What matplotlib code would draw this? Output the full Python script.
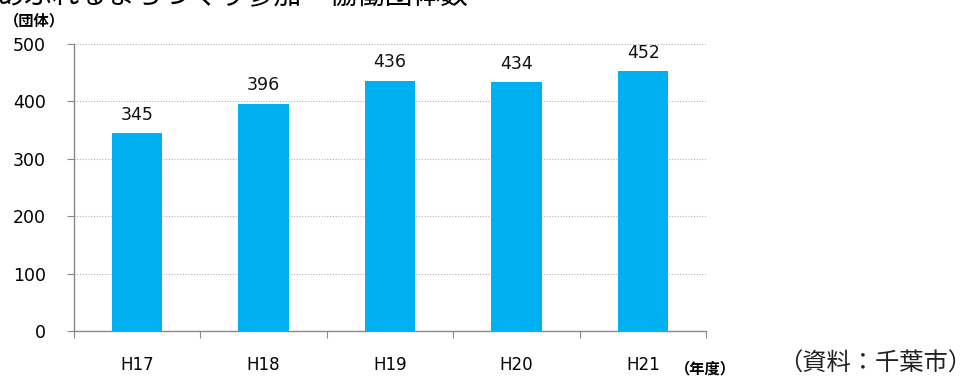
import matplotlib
matplotlib.use('Agg')
import matplotlib.pyplot as plt

plt.rcParams['font.family'] = ['DejaVu Sans', 'Noto Sans CJK JP']

# 年度別の団体数
years = ['H17', 'H18', 'H19', 'H20', 'H21']
counts = [345, 396, 436, 434, 452]
yticks = [0, 100, 200, 300, 400, 500]

fig = plt.figure(figsize=(9.73, 3.78), dpi=100)
ax = fig.add_axes([0.076, 0.124, 0.65, 0.76])

x = range(len(years))
bars = ax.bar(x, counts, width=0.4, color='#00B0F0', zorder=3)
for b, v in zip(bars, counts):
    ax.text(b.get_x() + b.get_width() / 2, v + 16, str(v), ha='center', va='bottom',
            fontsize=12.5, color='#111111')

ax.set_xlim(-0.5, len(years) - 0.5)
ax.set_ylim(0, 500)
ax.set_yticks(yticks)
ax.set_yticklabels([str(t) for t in yticks], fontsize=12.5)
ax.yaxis.grid(True, linestyle=(0, (1, 1.5)), color='#b0b0b0', linewidth=0.8, zorder=0)

# 区切り目盛りは棒の間、ラベルは棒の中央
ax.set_xticks([i - 0.5 for i in range(len(years) + 1)])
ax.set_xticklabels([])
ax.set_xticks(list(x), minor=True)
ax.set_xticklabels(years, minor=True, fontsize=12)
ax.tick_params(axis='x', which='minor', length=0, pad=18)
ax.tick_params(axis='x', which='major', length=5, color='#888888', direction='out')
ax.tick_params(axis='y', length=5, color='#888888', pad=15)

for s in ['top', 'right']:
    ax.spines[s].set_visible(False)
for s in ['left', 'bottom']:
    ax.spines[s].set_color('#888888')
    ax.spines[s].set_linewidth(1.0)

cjk = ['Noto Sans CJK JP', 'DejaVu Sans']
fig.text(-0.003, 0.99, 'あふれるまちづくり参加・協働団体数', fontsize=20, va='baseline', ha='left',
         family=cjk)
fig.text(0.004, 0.946, '（団体）', fontsize=11, fontweight='bold', va='center', ha='left',
         family=cjk)
fig.text(0.694, 0.026, '（年度）', fontsize=11, fontweight='bold', va='center', ha='left',
         family=cjk)
fig.text(0.999, 0.037, '（資料：千葉市）', fontsize=17.5, va='center', ha='right',
         family=cjk, color='#222222')

fig.savefig('out.png', dpi=100)
